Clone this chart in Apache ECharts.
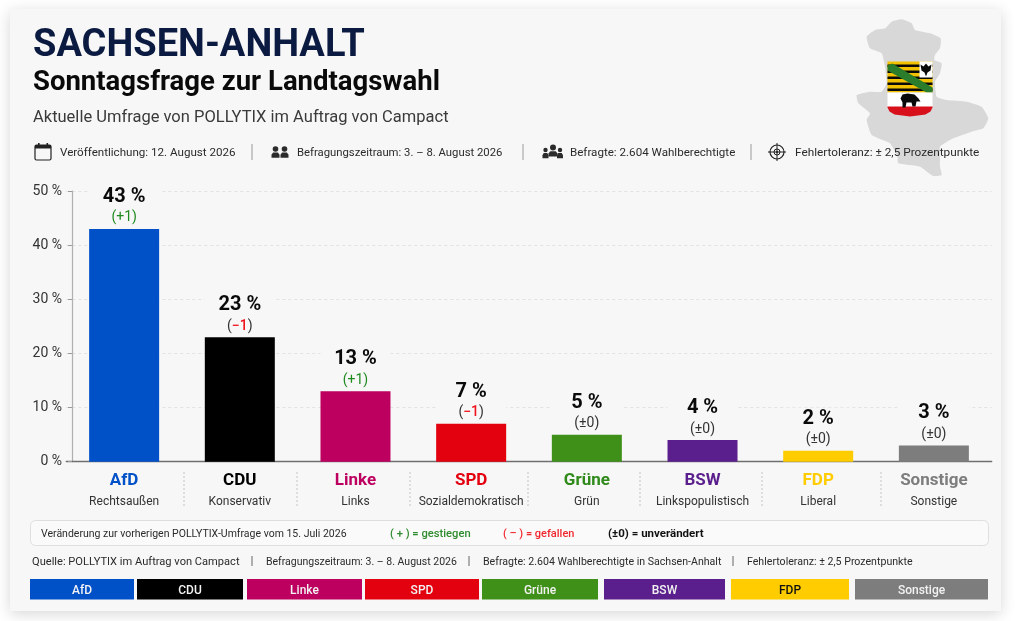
<!DOCTYPE html>
<html><head><meta charset="utf-8">
<style>html,body{margin:0;padding:0;background:#fff}#c{width:1024px;height:621px}</style>
<script src="https://cdn.jsdelivr.net/npm/echarts@6/dist/echarts.min.js"></script>
</head><body><div id="c"></div>
<script>
const categories = ['AfD','CDU','Linke','SPD','Grüne','BSW','FDP','Sonstige'];
const descriptors = ['Rechtsaußen','Konservativ','Links','Sozialdemokratisch','Grün','Linkspopulistisch','Liberal','Sonstige'];
const values = [43,23,13,7,5,4,2,3];
const changes = ['+1','-1','+1','-1','0','0','0','0'];
const colors = ['#0050c8','#000000','#bd0060','#e3000f','#3f9018','#5a1f8c','#ffcc00','#7d7d7d'];
const nameColors = ['#0050c8','#000000','#bd0060','#e3000f','#2f8a1a','#5a1f8c','#ffcc00','#7d7d7d'];
const legendEdges = [[30,134],[137,243],[247,362],[365,479],[482,598],[604,725],[731,849],[855,988]];
const separators = [184,297,410,528,640,762,881];
const FONT = 'Roboto';
const t = (x,y,text,size,color,weight,align) => ({type:'text',x,y,silent:true,style:{text,fontFamily:FONT,fontSize:size,fill:color,fontWeight:weight||'normal',align:align||'left',verticalAlign:'middle'}});
const rect = (x,y,w,h,fill,extra) => ({type:'rect',shape:Object.assign({x,y,width:w,height:h},extra&&extra.shape||{}),style:Object.assign({fill},extra&&extra.style||{}),silent:true});
const poly = (pts,fill,smooth) => ({type:'polygon',shape:{points:pts,smooth:smooth||0},style:{fill},silent:true});
const vline = (x,y1,y2,color,dash) => ({type:'line',shape:{x1:x,y1,x2:x,y2},style:{stroke:color,lineWidth:1,lineDash:dash||null},silent:true});

// Decorative state outline (from crop at 840,10, 3x)
const outline = [[185,28],[215,40],[225,60],[270,70],[302,85],[300,115],[285,135],[283,150],[305,160],[300,190],[285,215],[290,260],[320,270],[380,275],[425,290],[445,325],[430,355],[395,365],[340,385],[300,410],[300,445],[300,470],[305,495],[280,498],[240,470],[175,460],[172,440],[150,400],[95,375],[80,330],[90,310],[55,280],[50,255],[90,245],[125,245],[140,220],[135,170],[125,130],[90,115],[80,80],[105,60],[135,55],[155,35]].map(p=>[840+p[0]/3,10+p[1]/3]);

const g = [];
// card
g.push(rect(10,9,991,602,'#f7f7f7',{style:{shadowBlur:14,shadowColor:'rgba(0,0,0,0.16)',shadowOffsetY:3}}));
g.push(poly(outline,'#d8d8d8',0.15));
// shield
const sx=887.5, sy=61.5;
g.push(rect(sx,sy,45,31,'#f2c200'));
[3,9,15,21,27].forEach(d=>g.push(rect(sx,sy+d,45,2.6,'#0a0a0a')));
g.push(poly([[sx,sy+4],[sx+5,sy+2],[sx+45,sy+26],[sx+45,sy+31],[sx+39,sy+31],[sx,sy+9]],'#2b7d2b'));
g.push(rect(sx+32,sy,13,16,'#ffffff'));
g.push(poly([[sx+38.5,sy+2],[sx+41,sy+5],[sx+44,sy+3],[sx+43,sy+9],[sx+40,sy+11],[sx+38.5,sy+15],[sx+37,sy+11],[sx+34,sy+9],[sx+33,sy+3],[sx+36,sy+5]],'#0a0a0a'));
g.push(rect(sx,sy+31,45,15,'#ffffff'));
g.push(poly([[sx,sy+45],[sx+45,sy+45],[sx+45,sy+46],[sx+43,sy+50],[sx+38,sy+53],[sx+22.5,sy+55],[sx+7,sy+53],[sx+2,sy+50],[sx,sy+46]],'#d7101c'));
g.push(poly([[sx+13,sy+37],[sx+15,sy+33],[sx+20,sy+32],[sx+27,sy+33],[sx+31,sy+37],[sx+33,sy+40],[sx+29,sy+40],[sx+28,sy+45],[sx+25,sy+45],[sx+24,sy+41],[sx+19,sy+41],[sx+18,sy+46],[sx+15,sy+46],[sx+15,sy+41]],'#0a0a0a'));
// headings
g.push(t(33,46,'SACHSEN-ANHALT',38,'#0b1a40','bold'));
g.push(t(33,83,'Sonntagsfrage zur Landtagswahl',27.5,'#0a0a0a','bold'));
g.push(t(33,118,'Aktuelle Umfrage von POLLYTIX im Auftrag von Campact',16.5,'#3a3a3a'));
// info row
g.push(t(60,153,'Veröffentlichung: 12. August 2026',11.6,'#2b2b2b'));
g.push(t(297,153,'Befragungszeitraum: 3. – 8. August 2026',11.3,'#2b2b2b'));
g.push(t(570,153,'Befragte: 2.604 Wahlberechtigte',11.6,'#2b2b2b'));
g.push(t(795,153,'Fehlertoleranz: ± 2,5 Prozentpunkte',11.8,'#2b2b2b'));
[252,523,751].forEach(x=>g.push(vline(x,144,160,'#9a9a9a')));
// calendar icon
g.push({type:'rect',shape:{x:35,y:145,width:16,height:15,r:1.5},style:{fill:'none',stroke:'#222',lineWidth:1.2},silent:true});
g.push(rect(35,145,16,3.5,'#222'));
g.push(rect(38,143,1.6,3,'#222'));g.push(rect(46.5,143,1.6,3,'#222'));
// people icons
const person=(cx,cy,r,w)=>[{type:'circle',shape:{cx,cy,r},style:{fill:'#2b2b2b'},silent:true},poly([[cx-w,cy+r+6],[cx-w,cy+r+3],[cx-w*0.6,cy+r+0.8],[cx+w*0.6,cy+r+0.8],[cx+w,cy+r+3],[cx+w,cy+r+6]],'#2b2b2b')];
g.push(...person(275.5,149,2.8,4),...person(284.5,149,2.8,4));
g.push(...person(545.5,150,2.2,3),...person(560,150,2.2,3),...person(553,147.5,3,4.5));
// target icon
g.push({type:'circle',shape:{cx:777,cy:152,r:7},style:{fill:'none',stroke:'#222',lineWidth:1.2},silent:true});
g.push({type:'circle',shape:{cx:777,cy:152,r:3},style:{fill:'none',stroke:'#222',lineWidth:1},silent:true});
g.push({type:'circle',shape:{cx:777,cy:152,r:1},style:{fill:'#222'},silent:true});
g.push({type:'line',shape:{x1:768,y1:152,x2:786,y2:152},style:{stroke:'#222',lineWidth:1},silent:true});
g.push(vline(777,143,161,'#222'));
// separators between categories
separators.forEach(x=>g.push(vline(x,472,506,'#c4c4c4',[2,2])));
// note box
g.push({type:'rect',shape:{x:30.5,y:520.5,width:958,height:25,r:5},style:{fill:'#fafafa',stroke:'#dfdfdf',lineWidth:1},silent:true});
g.push(t(41,534,'Veränderung zur vorherigen POLLYTIX-Umfrage vom 15. Juli 2026',10.5,'#2b2b2b'));
g.push(t(390,534,'( + ) = gestiegen',11.2,'#2e8b2e','500'));
g.push(t(503,534,'( – ) = gefallen',11,'#f0282d','500'));
g.push(t(608,534,'(±0) = unverändert',11.5,'#111','bold'));
// source row
g.push(t(32,562,'Quelle: POLLYTIX im Auftrag von Campact',11.1,'#2b2b2b'));
g.push(t(266,562,'Befragungszeitraum: 3. – 8. August 2026',10.5,'#2b2b2b'));
g.push(t(483,562,'Befragte: 2.604 Wahlberechtigte in Sachsen-Anhalt',10.6,'#2b2b2b'));
g.push(t(747,562,'Fehlertoleranz: ± 2,5 Prozentpunkte',10.6,'#2b2b2b'));
[252,469,733].forEach(x=>g.push(vline(x,556,566,'#666')));
// colour strip
categories.forEach((c,i)=>{
  const [a,b]=legendEdges[i];
  g.push(rect(a,579,b-a,20.5,colors[i]));
  g.push(t((a+b)/2,590.5,c,12,c==='FDP'?'#111':'#f2f2f2','500','center'));
});

const changeLabel = c => {
  if (c==='+1') return '{up|(+1)}';
  if (c==='-1') return '{p|(}{down|−1}{p|)}';
  return '{p|(±0)}';
};
const chart = echarts.init(document.getElementById('c'),null,{renderer:'canvas'});
chart.setOption({
  animation:false,
  backgroundColor:'#ffffff',
  textStyle:{fontFamily:FONT},
  graphic:{elements:g.map(e=>Object.assign({z:-1,zlevel:0},e))},
  grid:{left:66.3,top:191,width:925.4,height:270.7,containLabel:false},
  xAxis:{type:'category',data:categories,
    axisLine:{lineStyle:{color:'#6f6f6f',width:1.4}},axisTick:{show:false},
    axisLabel:{interval:0,margin:8,fontFamily:FONT,
      formatter:(v,i)=>`{n${i}|${v}}\n{d|${descriptors[i]}}`,
      rich:Object.assign({d:{fontSize:12,color:'#333',lineHeight:20,fontFamily:FONT}},
        Object.fromEntries(categories.map((c,i)=>['n'+i,{fontSize:17,fontWeight:'bold',color:nameColors[i],lineHeight:22,fontFamily:FONT}])))}},
  yAxis:{type:'value',min:0,max:50,interval:10,offset:-5.7,
    axisLine:{show:true,lineStyle:{color:'#b0b0b0',width:1.2}},
    axisTick:{show:true,length:4,lineStyle:{color:'#9a9a9a'}},
    axisLabel:{formatter:'{value} %',fontSize:14,color:'#333',margin:10,fontFamily:FONT},
    splitLine:{show:true,lineStyle:{color:'#e2e2e2',type:[3,3],width:1}}},
  series:[{type:'bar',barWidth:70,
    data:values.map((v,i)=>({value:v,itemStyle:{color:colors[i]}})),
    label:{show:true,position:'top',distance:1,fontFamily:FONT,width:70,align:'center',backgroundColor:'#f7f7f7',
      formatter:p=>`{v|${p.value} %}\n${changeLabel(changes[p.dataIndex])}`,
      rich:{v:{fontSize:20,fontWeight:'bold',color:'#0a0a0a',lineHeight:22,fontFamily:FONT},
        up:{fontSize:14,color:'#1f8a1f',lineHeight:20,fontFamily:FONT},
        down:{fontSize:14,color:'#f0141e',lineHeight:20,fontWeight:'500',fontFamily:FONT},
        p:{fontSize:14,color:'#333',lineHeight:20,fontFamily:FONT}}}}]
});
</script></body></html>
